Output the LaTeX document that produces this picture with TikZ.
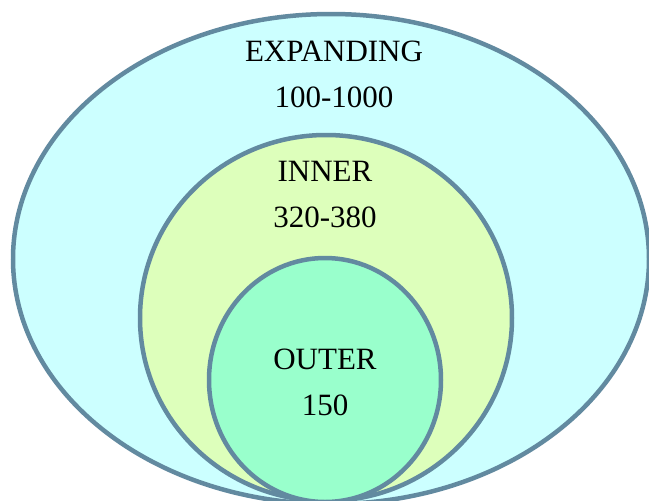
\documentclass[tikz,border=0pt]{standalone}
\usepackage{fontspec}
\setmainfont{Liberation Serif}
\usetikzlibrary{shapes.geometric}
\definecolor{ringline}{RGB}{98,138,160}
\definecolor{expfill}{RGB}{204,255,255}
\definecolor{innfill}{RGB}{221,255,187}
\definecolor{outfill}{RGB}{153,255,204}
\begin{document}
\begin{tikzpicture}[
                x=1pt,y=-1pt,
                ring/.style={ellipse,draw=ringline,line width=4.5pt,inner sep=0pt,outer sep=0pt},
                txt/.style={anchor=base,inner sep=0pt,font=\fontsize{31}{37}\selectfont}
            ]
                \useasboundingbox (0,0) rectangle (649,501);

                \node[ring,fill=expfill,minimum width=636pt,minimum height=490pt] (expanding) at (331,259) {};
                \node[ring,fill=innfill,minimum width=372pt,minimum height=366pt] (inner) at (326,318) {};
                \node[ring,fill=outfill,minimum width=232pt,minimum height=244pt] (outer) at (325,380) {};

                \node[txt] (expname)  at (334,61)  {EXPANDING};
                \node[txt] (exprange) at (334,107) {100-1000};
                \node[txt] (innname)  at (325,181) {INNER};
                \node[txt] (innrange) at (325,227) {320-380};
                \node[txt] (outname)  at (325,369) {OUTER};
                \node[txt] (outrange) at (325,415) {150};
            \end{tikzpicture}
\end{document}
